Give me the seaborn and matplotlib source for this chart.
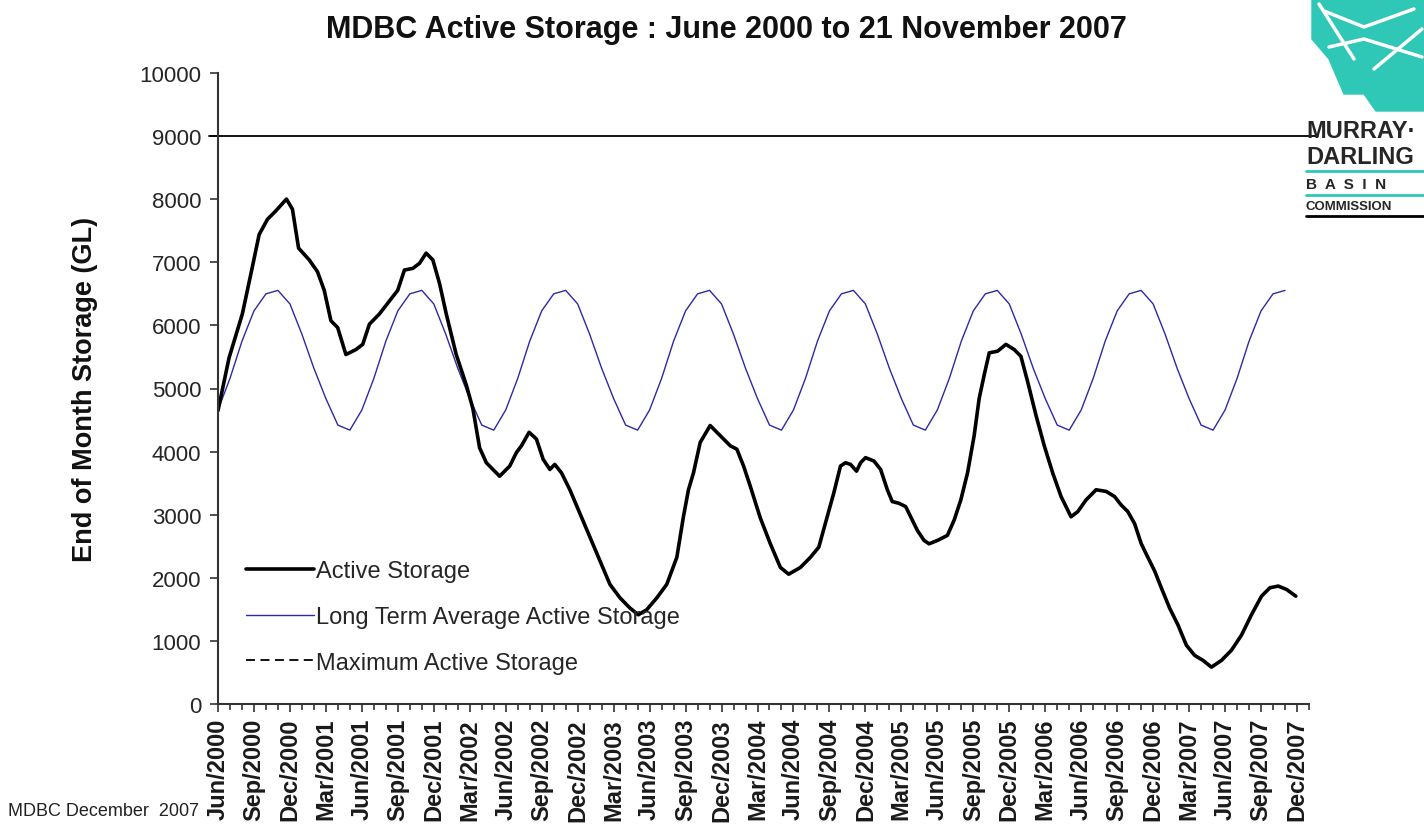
import numpy as np
import pandas as pd
import matplotlib
matplotlib.use("Agg")
import matplotlib.pyplot as plt
from matplotlib.lines import Line2D
from matplotlib.patches import Polygon
import seaborn as sns

# ---------------- data ----------------
# months since 1 June 2000 (fractional) and active storage (GL)
active_month = [0.0, 0.92, 2.03, 2.87, 3.43, 4.12, 4.82, 5.71, 6.21, 6.72, 7.61, 8.30, 8.86,
                9.42, 9.98, 10.67, 11.51, 12.07, 12.63, 13.46, 14.44, 14.99, 15.55, 16.25,
                16.81, 17.36, 17.92, 18.48, 19.04, 19.87, 20.71, 21.26, 21.82, 22.38, 23.49,
                24.33, 24.89, 25.31, 25.95, 26.56, 27.12, 27.68, 28.09, 28.65, 29.35, 30.18,
                31.02, 31.86, 32.69, 33.53, 34.36, 35.06, 35.76, 36.60, 37.43, 38.27, 38.82,
                39.24, 39.66, 40.22, 41.05, 41.89, 42.73, 43.28, 43.84, 44.40, 45.23, 46.07,
                46.91, 47.60, 48.58, 49.41, 50.11, 50.81, 51.36, 51.92, 52.34, 52.76, 53.26,
                53.60, 54.01, 54.71, 55.27, 55.83, 56.24, 56.80, 57.36, 57.78, 58.33, 58.89,
                59.31, 60.01, 60.84, 61.40, 61.96, 62.52, 63.07, 63.49, 63.91, 64.33, 65.02,
                65.72, 66.41, 66.97, 67.53, 68.23, 68.92, 69.62, 70.32, 71.15, 71.71, 72.41,
                73.24, 74.08, 74.78, 75.33, 75.89, 76.45, 77.01, 77.56, 78.12, 78.68, 79.37,
                80.07, 80.77, 81.46, 82.16, 82.86, 83.70, 84.53, 85.37, 86.20, 87.04, 87.74,
                88.43, 89.13, 89.90]
active_gl = [4650, 5484, 6181, 6930, 7439, 7680, 7814, 8002, 7841, 7225, 7038, 6850, 6556,
             6073, 5966, 5538, 5618, 5699, 6020, 6181, 6422, 6556, 6877, 6904,
             6984, 7145, 7038, 6663, 6181, 5538, 5056, 4681, 4060, 3824, 3610,
             3770, 3985, 4092, 4306, 4199, 3878, 3717, 3797, 3663, 3395, 3021,
             2646, 2271, 1896, 1682, 1521, 1414, 1494, 1682, 1896, 2324, 2967,
             3395, 3663, 4145, 4413, 4253, 4092, 4038, 3770, 3450, 2950, 2539,
             2164, 2057, 2164, 2324, 2485, 2967, 3342, 3770, 3824, 3797, 3690,
             3824, 3904, 3851, 3717, 3395, 3208, 3181, 3128, 2967, 2753, 2592,
             2539, 2592, 2672, 2914, 3235, 3663, 4252, 4842, 5217, 5565, 5591,
             5699, 5618, 5510, 5109, 4574, 4092, 3663, 3288, 2967, 3048, 3235,
             3395, 3369, 3288, 3155, 3048, 2860, 2539, 2324, 2110, 1842, 1521,
             1253, 932, 771, 691, 584, 691, 852, 1092, 1414, 1709, 1842,
             1869, 1815, 1709]

# long-term average active storage by month, starting with June
ltavg_cycle = [4660, 5160, 5750, 6230, 6500, 6555, 6340, 5860, 5320, 4840, 4420, 4340]
n_months = 90
max_storage = 9000

tick_labels = ["Jun/2000", "Sep/2000", "Dec/2000", "Mar/2001", "Jun/2001", "Sep/2001",
               "Dec/2001", "Mar/2002", "Jun/2002", "Sep/2002", "Dec/2002", "Mar/2003",
               "Jun/2003", "Sep/2003", "Dec/2003", "Mar/2004", "Jun/2004", "Sep/2004",
               "Dec/2004", "Mar/2005", "Jun/2005", "Sep/2005", "Dec/2005", "Mar/2006",
               "Jun/2006", "Sep/2006", "Dec/2006", "Mar/2007", "Jun/2007", "Sep/2007",
               "Dec/2007"]

series_labels = ["Active Storage", "Long Term Average Active Storage", "Maximum Active Storage"]

# ---------------- style ----------------
sns.set_style("ticks")
plt.rcParams["font.family"] = ["Liberation Sans", "DejaVu Sans"]

W, H = 1424, 829
fig = plt.figure(figsize=(W / 100, H / 100), dpi=100)
ax = fig.add_axes([218 / W, 1 - 705 / H, (1309 - 218) / W, (705 - 74) / H])

active_df = pd.DataFrame({"month": active_month, "storage": active_gl})
ltavg_df = pd.DataFrame({"month": np.arange(n_months),
                         "storage": [ltavg_cycle[i % 12] for i in range(n_months)]})

sns.lineplot(data=ltavg_df, x="month", y="storage", ax=ax, color="#2a2aa6", lw=1.0)
sns.lineplot(data=active_df, x="month", y="storage", ax=ax, color="black", lw=2.6)
ax.axhline(max_storage, xmin=-0.008, xmax=1.008, color="black", lw=1.3, clip_on=False)

ax.set_xlim(0, 91)
ax.set_ylim(0, 10000)
ax.set_yticks(np.arange(0, 10001, 1000))
ax.set_yticklabels([str(v) for v in range(0, 10001, 1000)], fontsize=16)
ax.set_xticks(np.arange(0, 91, 3))
ax.set_xticks(np.arange(0, 92, 1), minor=True)
ax.set_xticklabels(tick_labels, rotation=90, fontsize=17, fontweight="bold", color="#1a1a1a")
ax.tick_params(axis="x", which="major", length=6, width=1.2, pad=4, color="#333333")
ax.tick_params(axis="x", which="minor", length=4, width=1.2, color="#333333")
ax.tick_params(axis="y", which="major", length=6, width=1.2, pad=6, color="#333333")
for s in ["top", "right"]:
    ax.spines[s].set_visible(False)
for s in ["left", "bottom"]:
    ax.spines[s].set_linewidth(1.5)
    ax.spines[s].set_color("#333333")
ax.set_xlabel("")
ax.set_ylabel("")

handles = [Line2D([], [], color="black", lw=2.6),
           Line2D([], [], color="#2a2aa6", lw=1.0),
           Line2D([], [], color="black", lw=1.3, linestyle=(0, (5, 3)))]
ax.legend(handles, series_labels, frameon=False, loc="center left",
          bbox_to_anchor=(0.026, 0.138), fontsize=17, handlelength=2.85,
          handletextpad=0.1, labelspacing=1.0, borderpad=0, borderaxespad=0)

fig.text(726 / W, 1 - 30 / H, "MDBC Active Storage : June 2000 to 21 November 2007",
         ha="center", va="center", fontsize=22, fontweight="bold", color="#111111")
fig.text(85 / W, 1 - 389 / H, "End of Month Storage (GL)", rotation=90,
         ha="center", va="center", fontsize=19.5, fontweight="bold", color="#111111")
fig.text(8 / W, 1 - 812 / H, "MDBC December  2007", ha="left", va="center",
         fontsize=13, color="#222222")

# ---- logo (approximation) ----
lax = fig.add_axes([1304 / W, 1 - 220 / H, 120 / W, 220 / H])
lax.set_xlim(0, 120)
lax.set_ylim(220, 0)
lax.axis("off")
teal = "#2fc7b5"
lax.add_patch(Polygon([[8, 0], [120, 0], [120, 112], [72, 112], [60, 95], [40, 95],
                       [25, 60], [8, 40]], closed=True, color=teal))
for pts in ([[20, 12], [60, 28], [110, 10]], [[25, 48], [60, 40], [118, 58]],
            [[15, 5], [50, 60]], [[70, 70], [118, 30]]):
    pts = np.array(pts)
    lax.plot(pts[:, 0], pts[:, 1], color="white", lw=2.5)
lax.text(2, 132, "MURRAY·", fontsize=17, fontweight="bold", va="center", ha="left")
lax.text(2, 158, "DARLING", fontsize=17, fontweight="bold", va="center", ha="left")
lax.plot([2, 120], [172, 172], color=teal, lw=2)
lax.text(2, 185, "B  A  S  I  N", fontsize=11, fontweight="bold", va="center", ha="left")
lax.plot([2, 120], [196, 196], color=teal, lw=2)
lax.text(2, 207, "COMMISSION", fontsize=9.5, fontweight="bold", va="center", ha="left")
lax.plot([2, 120], [217, 217], color="black", lw=2)

fig.savefig("out.png", dpi=100, facecolor="white")
